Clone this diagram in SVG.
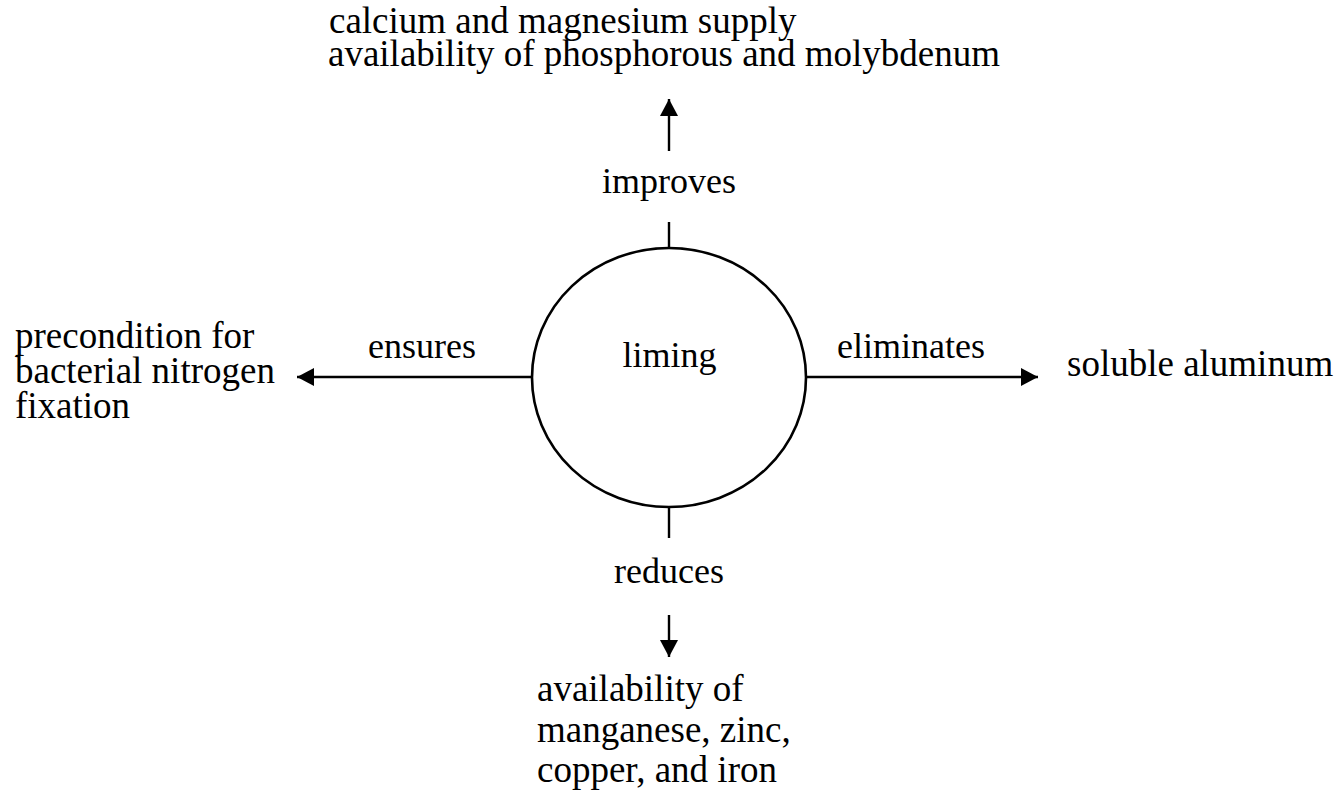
<svg xmlns="http://www.w3.org/2000/svg" width="1341" height="790" viewBox="0 0 1341 790">
<style>
text{font-family:"Liberation Serif","Times New Roman",serif;font-size:36px;fill:#000}
.n{font-size:37px}
.c{text-anchor:middle}
.ln{stroke:#000;stroke-width:2.4;fill:none}
</style>
<defs>
<marker id="ah" markerUnits="userSpaceOnUse" markerWidth="18" markerHeight="18" refX="17" refY="9" orient="auto">
<path d="M0,0 L17,9 L0,18 z" fill="#000"/>
</marker>
</defs>
<rect width="1341" height="790" fill="#fff"/>
<g id="connectors">
<line class="ln" x1="669" y1="151" x2="669" y2="99" marker-end="url(#ah)"/>
<line class="ln" x1="669" y1="222" x2="669" y2="248"/>
<line class="ln" x1="532" y1="377" x2="297" y2="377" marker-end="url(#ah)"/>
<line class="ln" x1="806" y1="377" x2="1038" y2="377" marker-end="url(#ah)"/>
<line class="ln" x1="669" y1="507" x2="669" y2="538"/>
<line class="ln" x1="669" y1="615" x2="669" y2="657" marker-end="url(#ah)"/>
<text class="c" x="669" y="193">improves</text>
<text class="c" x="422" y="358">ensures</text>
<text class="c" x="911" y="358">eliminates</text>
<text class="c" x="669" y="583">reduces</text>
</g>
<g id="liming">
<ellipse cx="669" cy="377.5" rx="137" ry="129.5" fill="#fff" stroke="#000" stroke-width="2.6"/>
<text class="c" x="669.5" y="367">liming</text>
</g>
<g id="top">
<text class="n" x="329" y="33">calcium and magnesium supply</text>
<text class="n" x="328" y="66">availability of phosphorous and molybdenum</text>
</g>
<g id="left">
<text class="n" x="15" y="348">precondition for</text>
<text class="n" x="15" y="383">bacterial nitrogen</text>
<text class="n" x="15" y="418">fixation</text>
</g>
<g id="right">
<text class="n" x="1067" y="376">soluble aluminum</text>
</g>
<g id="bottom">
<text class="n" x="537" y="701">availability of</text>
<text class="n" x="537" y="742">manganese, zinc,</text>
<text class="n" x="537" y="782">copper, and iron</text>
</g>
</svg>
